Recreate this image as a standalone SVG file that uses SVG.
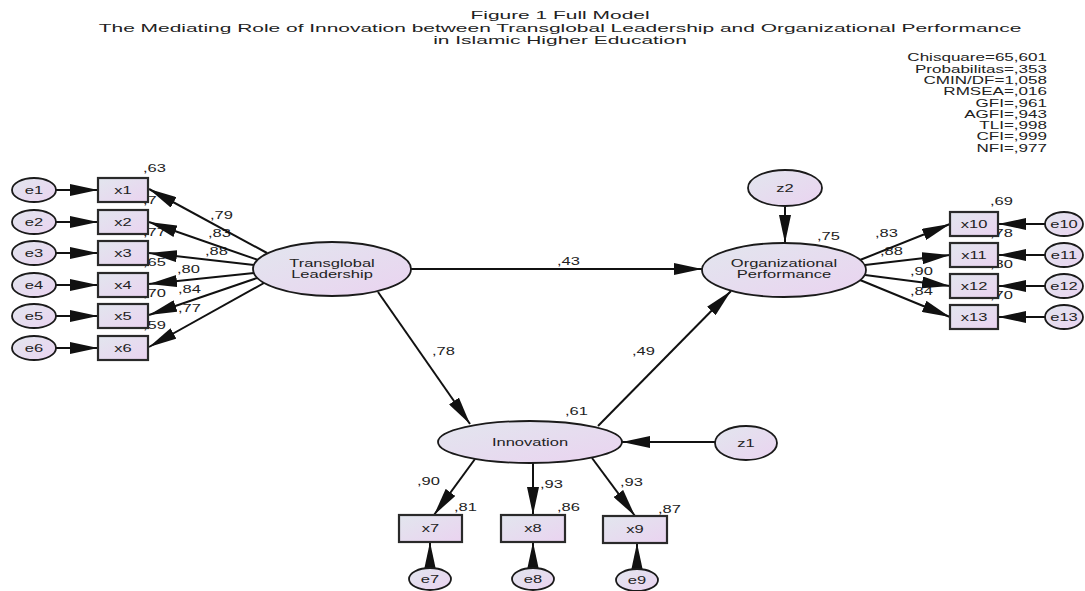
<svg xmlns="http://www.w3.org/2000/svg" width="1085" height="591" viewBox="0 0 1085 591">
<style>
.t{font-family:"Liberation Sans",Arial,sans-serif;font-size:11px;fill:#222}
.ti{font-family:"Liberation Sans",Arial,sans-serif;font-size:11.2px;fill:#222;text-anchor:middle}
.st{font-family:"Liberation Sans",Arial,sans-serif;font-size:11px;fill:#222;text-anchor:end}
.c{text-anchor:middle}
.n{fill:url(#g);stroke:#1a1a1a;stroke-width:1.8}
.b{fill:url(#g);stroke:#2a2a2a;stroke-width:2.2}
.e{stroke:#111;stroke-width:2;fill:none;marker-end:url(#ah)}
</style>
<defs>
<linearGradient id="g" x1="0" y1="0" x2="1" y2="1">
<stop offset="0" stop-color="#e2e6ee"/>
<stop offset="1" stop-color="#ead3f0"/>
</linearGradient>
<marker id="ah" markerUnits="userSpaceOnUse" markerWidth="28" markerHeight="12" refX="28" refY="6" orient="auto">
<path d="M0,0 L28,6 L0,12 z" fill="#111"/>
</marker>
</defs>
<rect width="1085" height="591" fill="#fff"/>
<g id="title">
<text class="ti" transform="translate(560 19) scale(1.87 1)">Figure 1 Full Model</text>
<text class="ti" transform="translate(560 31.5) scale(1.87 1)">The Mediating Role of Innovation between Transglobal Leadership and Organizational Performance</text>
<text class="ti" transform="translate(560 44) scale(1.87 1)">in Islamic Higher Education</text>
</g>
<g id="fit">
<text class="st" transform="translate(1047 61) scale(1.55 1)">Chisquare=65,601</text>
<text class="st" transform="translate(1047 72.5) scale(1.55 1)">Probabilitas=,353</text>
<text class="st" transform="translate(1047 84) scale(1.55 1)">CMIN/DF=1,058</text>
<text class="st" transform="translate(1047 95) scale(1.55 1)">RMSEA=,016</text>
<text class="st" transform="translate(1047 106.5) scale(1.55 1)">GFI=,961</text>
<text class="st" transform="translate(1047 117.5) scale(1.55 1)">AGFI=,943</text>
<text class="st" transform="translate(1047 129) scale(1.55 1)">TLI=,998</text>
<text class="st" transform="translate(1047 140) scale(1.55 1)">CFI=,999</text>
<text class="st" transform="translate(1047 151.5) scale(1.55 1)">NFI=,977</text>
</g>
<g id="labels">
<text class="t" transform="translate(143 172) scale(1.5 1)">,63</text>
<text class="t" transform="translate(143 204) scale(1.5 1)">,7</text>
<text class="t" transform="translate(143 236) scale(1.5 1)">,77</text>
<text class="t" transform="translate(143 266) scale(1.5 1)">,65</text>
<text class="t" transform="translate(143 297) scale(1.5 1)">,70</text>
<text class="t" transform="translate(143 329) scale(1.5 1)">,59</text>
<text class="t" transform="translate(210 219) scale(1.5 1)">,79</text>
<text class="t" transform="translate(208 237) scale(1.5 1)">,83</text>
<text class="t" transform="translate(205 255) scale(1.5 1)">,88</text>
<text class="t" transform="translate(177 273) scale(1.5 1)">,80</text>
<text class="t" transform="translate(178 293) scale(1.5 1)">,84</text>
<text class="t" transform="translate(178 312) scale(1.5 1)">,77</text>
<text class="t" transform="translate(817 240) scale(1.5 1)">,75</text>
<text class="t" transform="translate(875 237) scale(1.5 1)">,83</text>
<text class="t" transform="translate(880 255) scale(1.5 1)">,88</text>
<text class="t" transform="translate(910 275) scale(1.5 1)">,90</text>
<text class="t" transform="translate(910 295) scale(1.5 1)">,84</text>
<text class="t" transform="translate(990 205) scale(1.5 1)">,69</text>
<text class="t" transform="translate(990 237) scale(1.5 1)">,78</text>
<text class="t" transform="translate(990 268) scale(1.5 1)">,80</text>
<text class="t" transform="translate(990 299) scale(1.5 1)">,70</text>
<text class="t" transform="translate(557 265) scale(1.5 1)">,43</text>
<text class="t" transform="translate(432 355) scale(1.5 1)">,78</text>
<text class="t" transform="translate(632 355) scale(1.5 1)">,49</text>
<text class="t" transform="translate(565 415) scale(1.5 1)">,61</text>
<text class="t" transform="translate(417 485) scale(1.5 1)">,90</text>
<text class="t" transform="translate(454 511) scale(1.5 1)">,81</text>
<text class="t" transform="translate(540 488) scale(1.5 1)">,93</text>
<text class="t" transform="translate(557 511) scale(1.5 1)">,86</text>
<text class="t" transform="translate(620 486) scale(1.5 1)">,93</text>
<text class="t" transform="translate(658 513) scale(1.5 1)">,87</text>
</g>
<g id="connectors">
<path class="e" d="M56,190 L98,190"/>
<path class="e" d="M56,222 L98,222"/>
<path class="e" d="M56,253 L98,253"/>
<path class="e" d="M56,285 L98,285"/>
<path class="e" d="M56,316 L98,316"/>
<path class="e" d="M56,348 L98,348"/>
<path class="e" d="M267,253 L149,189"/>
<path class="e" d="M258,260 L149,222"/>
<path class="e" d="M254,265 L149,253"/>
<path class="e" d="M254,273 L149,284"/>
<path class="e" d="M257,278 L149,315"/>
<path class="e" d="M264,283 L149,347"/>
<path class="e" d="M411,269 L702,269"/>
<path class="e" d="M378,292 L470,424"/>
<path class="e" d="M598,426 L731,291"/>
<path class="e" d="M785,207 L785,243"/>
<path class="e" d="M715,442 L622,442"/>
<path class="e" d="M860,260 L950,224"/>
<path class="e" d="M865,265 L950,255"/>
<path class="e" d="M865,275 L950,286"/>
<path class="e" d="M860,280 L950,317"/>
<path class="e" d="M1045,224 L998,224"/>
<path class="e" d="M1045,255 L998,255"/>
<path class="e" d="M1045,286 L998,286"/>
<path class="e" d="M1045,317 L998,317"/>
<path class="e" d="M475,459 L434,515"/>
<path class="e" d="M533,463 L533,515"/>
<path class="e" d="M592,458 L635,516"/>
<path class="e" d="M430,568 L430,542"/>
<path class="e" d="M533,568 L533,542"/>
<path class="e" d="M637,569 L637,543"/>
</g>
<g id="e1"><ellipse class="n" cx="34" cy="190" rx="22" ry="12"/><text class="t c" transform="translate(34 194) scale(1.5 1)">e1</text></g>
<g id="e2"><ellipse class="n" cx="34" cy="222" rx="22" ry="12"/><text class="t c" transform="translate(34 226) scale(1.5 1)">e2</text></g>
<g id="e3"><ellipse class="n" cx="34" cy="253" rx="22" ry="12"/><text class="t c" transform="translate(34 257) scale(1.5 1)">e3</text></g>
<g id="e4"><ellipse class="n" cx="34" cy="285" rx="22" ry="12"/><text class="t c" transform="translate(34 289) scale(1.5 1)">e4</text></g>
<g id="e5"><ellipse class="n" cx="34" cy="316" rx="22" ry="12"/><text class="t c" transform="translate(34 320) scale(1.5 1)">e5</text></g>
<g id="e6"><ellipse class="n" cx="34" cy="348" rx="22" ry="12"/><text class="t c" transform="translate(34 352) scale(1.5 1)">e6</text></g>
<g id="x1"><rect class="b" x="98" y="178" width="50" height="24"/><text class="t c" transform="translate(123 194) scale(1.5 1)">x1</text></g>
<g id="x2"><rect class="b" x="98" y="210" width="50" height="24"/><text class="t c" transform="translate(123 226) scale(1.5 1)">x2</text></g>
<g id="x3"><rect class="b" x="98" y="241" width="50" height="24"/><text class="t c" transform="translate(123 257) scale(1.5 1)">x3</text></g>
<g id="x4"><rect class="b" x="98" y="273" width="50" height="24"/><text class="t c" transform="translate(123 289) scale(1.5 1)">x4</text></g>
<g id="x5"><rect class="b" x="98" y="304" width="50" height="24"/><text class="t c" transform="translate(123 320) scale(1.5 1)">x5</text></g>
<g id="x6"><rect class="b" x="98" y="336" width="50" height="24"/><text class="t c" transform="translate(123 352) scale(1.5 1)">x6</text></g>
<g id="transglobal"><ellipse class="n" cx="332" cy="269" rx="79" ry="27"/><text class="t c" transform="translate(332 267) scale(1.5 1)">Transglobal</text><text class="t c" transform="translate(332 278) scale(1.5 1)">Leadership</text></g>
<g id="z2"><ellipse class="n" cx="785" cy="188" rx="37" ry="18"/><text class="t c" transform="translate(785 192) scale(1.5 1)">z2</text></g>
<g id="performance"><ellipse class="n" cx="784" cy="270" rx="82" ry="27"/><text class="t c" transform="translate(784 267) scale(1.5 1)">Organizational</text><text class="t c" transform="translate(784 278) scale(1.5 1)">Performance</text></g>
<g id="x10"><rect class="b" x="950" y="212" width="48" height="24"/><text class="t c" transform="translate(974 228) scale(1.5 1)">x10</text></g>
<g id="x11"><rect class="b" x="950" y="243" width="48" height="24"/><text class="t c" transform="translate(974 259) scale(1.5 1)">x11</text></g>
<g id="x12"><rect class="b" x="950" y="274" width="48" height="24"/><text class="t c" transform="translate(974 290) scale(1.5 1)">x12</text></g>
<g id="x13"><rect class="b" x="950" y="305" width="48" height="24"/><text class="t c" transform="translate(974 321) scale(1.5 1)">x13</text></g>
<g id="e10"><ellipse class="n" cx="1064" cy="224" rx="19" ry="12"/><text class="t c" transform="translate(1064 228) scale(1.5 1)">e10</text></g>
<g id="e11"><ellipse class="n" cx="1064" cy="255" rx="19" ry="12"/><text class="t c" transform="translate(1064 259) scale(1.5 1)">e11</text></g>
<g id="e12"><ellipse class="n" cx="1064" cy="286" rx="19" ry="12"/><text class="t c" transform="translate(1064 290) scale(1.5 1)">e12</text></g>
<g id="e13"><ellipse class="n" cx="1064" cy="317" rx="19" ry="12"/><text class="t c" transform="translate(1064 321) scale(1.5 1)">e13</text></g>
<g id="innovation"><ellipse class="n" cx="530" cy="442" rx="92" ry="21"/><text class="t c" transform="translate(530 446) scale(1.5 1)">Innovation</text></g>
<g id="z1"><ellipse class="n" cx="746" cy="443" rx="31" ry="17"/><text class="t c" transform="translate(746 447) scale(1.5 1)">z1</text></g>
<g id="x7"><rect class="b" x="399" y="515" width="63" height="27"/><text class="t c" transform="translate(430.5 532) scale(1.5 1)">x7</text></g>
<g id="x8"><rect class="b" x="501" y="515" width="64" height="27"/><text class="t c" transform="translate(533 532) scale(1.5 1)">x8</text></g>
<g id="x9"><rect class="b" x="603" y="516" width="64" height="27"/><text class="t c" transform="translate(635 533) scale(1.5 1)">x9</text></g>
<g id="e7"><ellipse class="n" cx="430" cy="579" rx="21" ry="11"/><text class="t c" transform="translate(430 583) scale(1.5 1)">e7</text></g>
<g id="e8"><ellipse class="n" cx="533" cy="579" rx="21" ry="11"/><text class="t c" transform="translate(533 583) scale(1.5 1)">e8</text></g>
<g id="e9"><ellipse class="n" cx="637" cy="580" rx="21" ry="11"/><text class="t c" transform="translate(637 584) scale(1.5 1)">e9</text></g>
</svg>
